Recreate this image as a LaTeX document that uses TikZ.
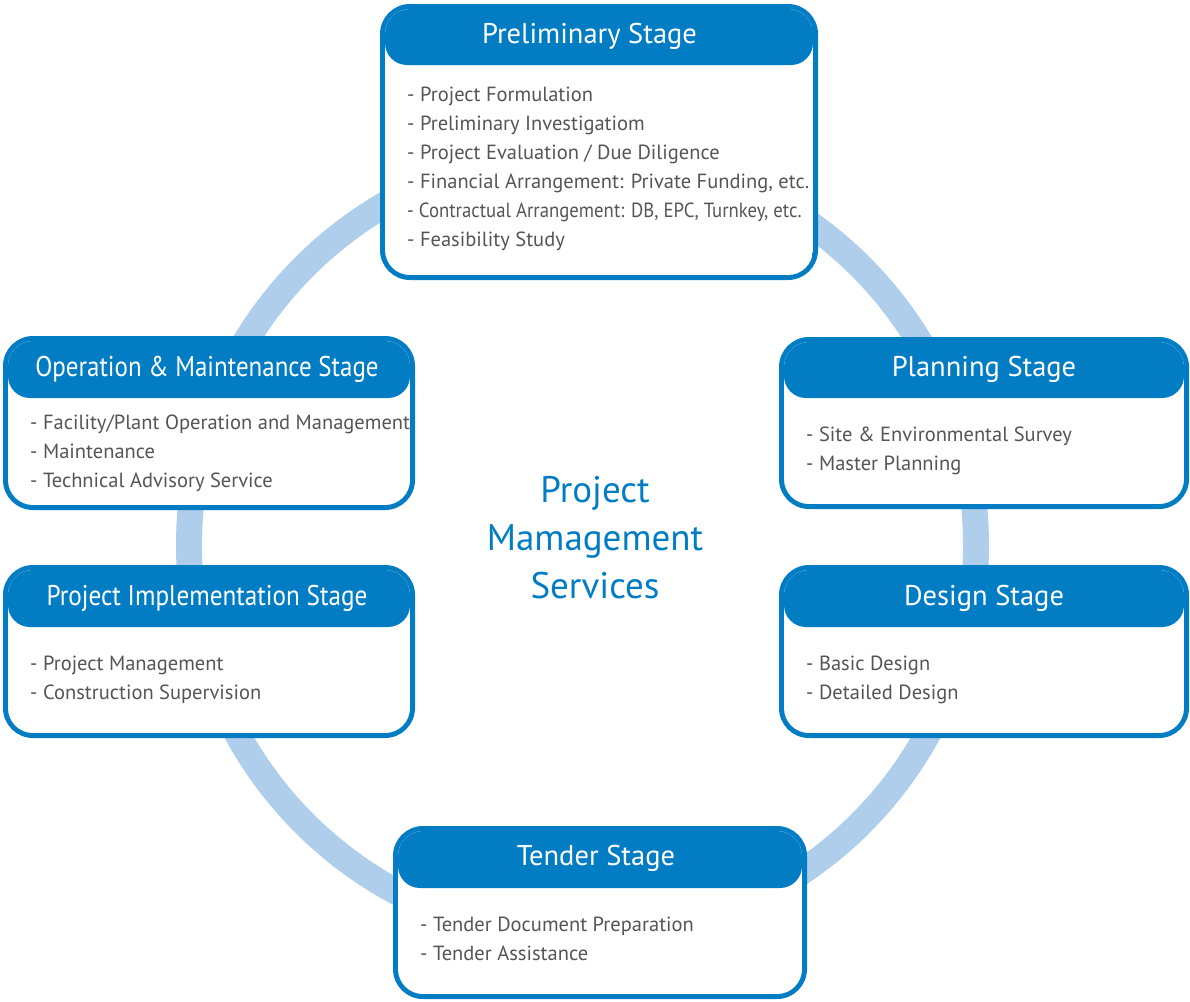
\documentclass[tikz,border=0pt]{standalone}
\usepackage{fontspec}
\setmainfont{PT Sans}
\definecolor{mblue}{HTML}{027DC4}
\definecolor{ringc}{HTML}{AECEEC}
\definecolor{txt}{HTML}{555555}
\newcommand\stagebox[5]{%
  \fill[mblue, rounded corners=30pt] (#1,#2) rectangle (#3,#4);
  \begin{scope}
    \clip[rounded corners=25pt] ({#1+5},{#2+5}) rectangle ({#3-5},{#4-5});
    \fill[white] ({#1+5},{#2+5}) rectangle ({#3-5},{#4-5});
    \fill[mblue, rounded corners=22pt] ({#1+5},{#2-40}) rectangle ({#3-5},#5);
  \end{scope}}
\tikzset{
  stitle/.style={text=white, font=\fontsize{28.5}{32}\selectfont, anchor=base, inner sep=0pt},
  item/.style={text=txt, font=\fontsize{20.5}{24}\selectfont, anchor=base west, inner sep=0pt},
  center/.style={text=mblue, font=\fontsize{37}{42}\selectfont, anchor=base, inner sep=0pt}
}
\begin{document}
\begin{tikzpicture}[x=1pt, y=-1pt]
\useasboundingbox (0,0) rectangle (1190,1001);
\draw[ringc, line width=26pt] (582.5,545) circle (393.5pt);

% Preliminary
\stagebox{380}{4}{818}{280}{65}
\node[stitle] (pt) at (589.5,43.3) {Preliminary Stage};
\node[item] (p1) at (407,101.7) {- Project Formulation};
\node[item] (p2) at (407,130.7) {- Preliminary Investigatiom};
\node[item] (p3) at (407,159.7) {- Project Evaluation / Due Diligence};
\node[item] (p4) at (407,188.7) {- Financial Arrangement: Private Funding, etc.};
\node[item] (p5) at (407,217.7) {\scalebox{0.915}[1]{- Contractual Arrangement: DB, EPC, Turnkey, etc.}};
\node[item] (p6) at (407,246.7) {- Feasibility Study};

% Operation & Maintenance
\stagebox{3}{336}{415}{510}{398}
\node[stitle] (ot) at (207,376.7) {\scalebox{0.876}[1]{Operation \& Maintenance Stage}};
\node[item] (o1) at (30,429.3) {- Facility/Plant Operation and Management};
\node[item] (o2) at (30,458.3) {- Maintenance};
\node[item] (o3) at (30,487.3) {- Technical Advisory Service};

% Planning
\stagebox{779}{337}{1189}{509}{398}
\node[stitle] (lt) at (984,376.7) {Planning Stage};
\node[item] (l1) at (806,441.7) {- Site \& Environmental Survey};
\node[item] (l2) at (806,470.7) {- Master Planning};

% Project Implementation
\stagebox{3}{565}{415}{738}{627}
\node[stitle] (it) at (207,605) {\scalebox{0.884}[1]{Project Implementation Stage}};
\node[item] (i1) at (30,670.7) {- Project Management};
\node[item] (i2) at (30,699.7) {- Construction Supervision};

% Design
\stagebox{779}{565}{1189}{738}{627}
\node[stitle] (dt) at (984,605) {Design Stage};
\node[item] (d1) at (806,670.7) {- Basic Design};
\node[item] (d2) at (806,699.7) {- Detailed Design};

% Tender
\stagebox{393}{826}{807}{999}{888}
\node[stitle] (tt) at (596,865.7) {Tender Stage};
\node[item] (t1) at (420,931.7) {- Tender Document Preparation};
\node[item] (t2) at (420,960.7) {- Tender Assistance};

% Center
\node[center] (c1) at (595,502.7) {Project};
\node[center] (c2) at (595,550.7) {Mamagement};
\node[center] (c3) at (595,598.3) {Services};
\end{tikzpicture}
\end{document}
